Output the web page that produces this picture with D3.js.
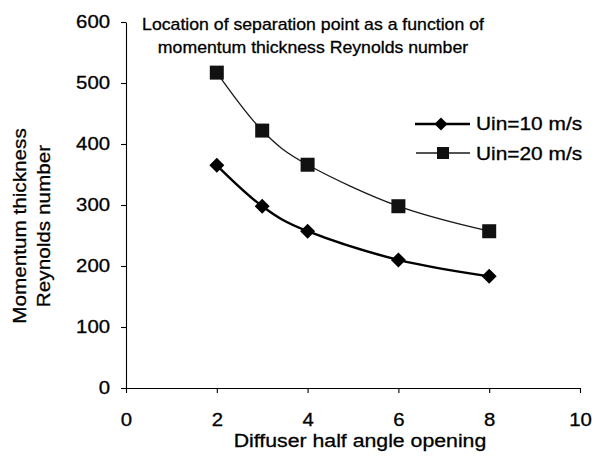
<!DOCTYPE html>
<html>
<head>
<meta charset="utf-8">
<script src="https://cdn.jsdelivr.net/npm/d3@7"></script>
<style>
html,body{margin:0;padding:0;background:#fff;}
svg{display:block;}
text{font-family:"Liberation Sans",Arial,Helvetica,sans-serif;fill:#000;stroke:#000;stroke-width:0.3px;}
</style>
</head>
<body>
<svg id="chart" width="592" height="457"></svg>
<script>
// ---- data ----
const angles = [2, 3, 4, 6, 8];
const re10 = [365, 298, 257, 210, 183];
const re20 = [517, 422, 366, 298, 257];
const seriesNames = ["Uin=10 m/s", "Uin=20 m/s"];
const xTicks = [0, 2, 4, 6, 8, 10];
const yTicks = [0, 100, 200, 300, 400, 500, 600];
const titleLines = ["Location of separation point as a function of", "momentum thickness Reynolds number"];
const xTitle = "Diffuser half angle opening";
const yTitleLines = ["Momentum thickness", "Reynolds number"];

const svg = d3.select("#chart");
const x = d3.scaleLinear().domain([0, 10]).range([126, 580]);
const y = d3.scaleLinear().domain([0, 600]).range([388, 22]);

// axes
const SXT = 1.1;
const yAxis = svg.append("g").attr("transform", `translate(${x(0)},0)`)
  .call(d3.axisLeft(y).tickValues(yTicks).tickSize(5).tickSizeOuter(0).tickFormat(d3.format("d")));
yAxis.selectAll("text").attr("font-size", 18.5).attr("x", -16 / SXT).attr("transform", `scale(${SXT},1)`)
  .attr("font-family", '"Liberation Sans",Arial,sans-serif').attr("fill", "#000");
const xAxis = svg.append("g").attr("transform", `translate(0,${y(0)})`)
  .call(d3.axisBottom(x).tickValues(xTicks).tickSize(5).tickSizeOuter(0).tickFormat(d3.format("d")));
xAxis.selectAll("text").attr("font-size", 18.5).attr("y", 25)
  .attr("font-family", '"Liberation Sans",Arial,sans-serif').attr("fill", "#000");
xAxis.selectAll(".tick").each(function(d){
  d3.select(this).select("text").attr("transform", `scale(${SXT},1)`);
});
svg.selectAll(".domain, .tick line").attr("stroke", "#000").attr("stroke-width", 1.1);

// helper for stretched text
function label(str, px, py, size, anchor, sx, rot) {
  svg.append("text")
    .attr("transform", `translate(${px},${py})` + (rot ? ` rotate(${rot})` : "") + ` scale(${sx},1)`)
    .attr("text-anchor", anchor).attr("font-size", size).text(str);
}

// title
label(titleLines[0], 313, 30, 17, "middle", 1.04);
label(titleLines[1], 313, 52.5, 17, "middle", 1.04);
// axis titles
label(xTitle, 360, 447, 18.5, "middle", 1.15);
label(yTitleLines[0], 25.5, 226, 18.5, "middle", 1.12, -90);
label(yTitleLines[1], 49.5, 226, 18.5, "middle", 1.12, -90);

// lines
const line = d3.line().x(d => x(d[0])).y(d => y(d[1])).curve(d3.curveCardinal.tension(0));
const d10 = angles.map((a, i) => [a, re10[i]]);
const d20 = angles.map((a, i) => [a, re20[i]]);
svg.append("path").attr("d", line(d20)).attr("fill", "none").attr("stroke", "#1a1a1a").attr("stroke-width", 1.3);
svg.append("path").attr("d", line(d10)).attr("fill", "none").attr("stroke", "#000").attr("stroke-width", 2.4);

const diamond = s => `M0,${-s}L${s},0L0,${s}L${-s},0Z`;
svg.append("g").selectAll("rect").data(d20).join("rect")
  .attr("x", d => x(d[0]) - 7).attr("y", d => y(d[1]) - 7).attr("width", 14).attr("height", 14).attr("fill", "#111");
svg.append("g").selectAll("path").data(d10).join("path")
  .attr("transform", d => `translate(${x(d[0])},${y(d[1])})`).attr("d", diamond(7.5)).attr("fill", "#000");

// legend
const lg = svg.append("g");
lg.append("line").attr("x1", 415).attr("x2", 470).attr("y1", 124).attr("y2", 124).attr("stroke", "#000").attr("stroke-width", 2.4);
lg.append("path").attr("transform", "translate(441,124)").attr("d", diamond(6.5)).attr("fill", "#000");
lg.append("line").attr("x1", 416).attr("x2", 470).attr("y1", 153).attr("y2", 153).attr("stroke", "#1a1a1a").attr("stroke-width", 1.3);
lg.append("rect").attr("x", 437).attr("y", 147).attr("width", 12).attr("height", 12).attr("fill", "#111");
label(seriesNames[0], 476, 130, 17.7, "start", 1.18);
label(seriesNames[1], 476, 159.5, 17.7, "start", 1.18);
</script>
</body>
</html>
